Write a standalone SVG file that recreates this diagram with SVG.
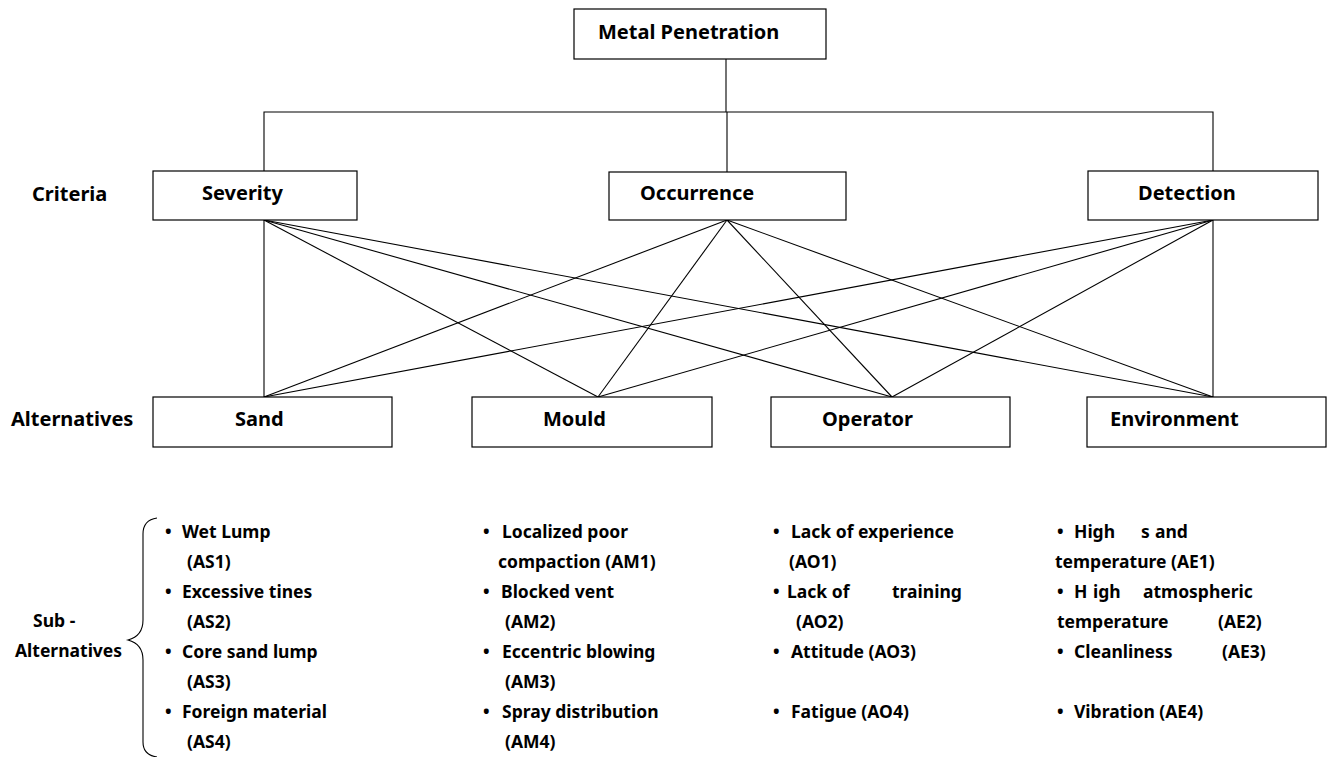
<svg xmlns="http://www.w3.org/2000/svg" width="1328" height="757" viewBox="0 0 1328 757">
<style>
.box{fill:#fff;stroke:#000;stroke-width:1.2}
.lbl{font-family:"Noto Sans","Open Sans",sans-serif;font-weight:bold;font-size:20px;fill:#000}
.sub{font-family:"Noto Sans","Open Sans",sans-serif;font-weight:bold;font-size:17.5px;fill:#000}
.ln{stroke:#000;stroke-width:1.1;fill:none}
</style>
<rect width="1328" height="757" fill="#fff"/>
<g id="connectors">
<polyline class="ln" points="726,59 726,112"/>
<polyline class="ln" points="264,171 264,112 1213,112 1213,171"/>
<line class="ln" x1="727" y1="112" x2="727" y2="172"/>
<line class="ln" x1="264" y1="220" x2="264" y2="397"/>
<line class="ln" x1="264" y1="220" x2="598" y2="397"/>
<line class="ln" x1="264" y1="220" x2="892" y2="397"/>
<line class="ln" x1="264" y1="220" x2="1213" y2="397"/>
<line class="ln" x1="727" y1="220" x2="264" y2="397"/>
<line class="ln" x1="727" y1="220" x2="598" y2="397"/>
<line class="ln" x1="727" y1="220" x2="892" y2="397"/>
<line class="ln" x1="727" y1="220" x2="1213" y2="397"/>
<line class="ln" x1="1213" y1="220" x2="264" y2="397"/>
<line class="ln" x1="1213" y1="220" x2="598" y2="397"/>
<line class="ln" x1="1213" y1="220" x2="892" y2="397"/>
<line class="ln" x1="1213" y1="220" x2="1213" y2="397"/>
</g>
<g id="metal-penetration"><rect class="box" x="574" y="9" width="252" height="50"/><text class="lbl" x="598" y="39">Metal Penetration</text></g>
<g id="criteria-label"><text class="lbl" x="32" y="201">Criteria</text></g>
<g id="severity"><rect class="box" x="153" y="171" width="204" height="49"/><text class="lbl" x="202" y="200">Severity</text></g>
<g id="occurrence"><rect class="box" x="609" y="172" width="237" height="48"/><text class="lbl" x="640" y="200">Occurrence</text></g>
<g id="detection"><rect class="box" x="1088" y="171" width="230" height="49"/><text class="lbl" x="1138" y="200">Detection</text></g>
<g id="alternatives-label"><text class="lbl" x="11" y="426">Alternatives</text></g>
<g id="sand"><rect class="box" x="153" y="397" width="239" height="50"/><text class="lbl" x="235" y="426">Sand</text></g>
<g id="mould"><rect class="box" x="472" y="397" width="240" height="50"/><text class="lbl" x="543" y="426">Mould</text></g>
<g id="operator"><rect class="box" x="771" y="397" width="239" height="50"/><text class="lbl" x="822" y="426">Operator</text></g>
<g id="environment"><rect class="box" x="1087" y="397" width="239" height="50"/><text class="lbl" x="1110" y="426">Environment</text></g>
<g id="sub-alternatives-label">
<text class="sub" x="33" y="627">Sub -</text>
<text class="sub" x="15" y="657">Alternatives</text>
<path class="ln" d="M157,518 Q143,520 143,534 L143,620 Q143,636 128,640 Q143,644 143,660 L143,742 Q143,755 157,757"/>
</g>
<g id="sand-subs">
<text class="sub" x="165" y="538">•</text><text class="sub" x="182" y="538">Wet Lump</text>
<text class="sub" x="187" y="568">(AS1)</text>
<text class="sub" x="165" y="598">•</text><text class="sub" x="182" y="598">Excessive tines</text>
<text class="sub" x="187" y="628">(AS2)</text>
<text class="sub" x="165" y="658">•</text><text class="sub" x="182" y="658">Core sand lump</text>
<text class="sub" x="187" y="688">(AS3)</text>
<text class="sub" x="165" y="718">•</text><text class="sub" x="182" y="718">Foreign material</text>
<text class="sub" x="187" y="748">(AS4)</text>
</g>
<g id="mould-subs">
<text class="sub" x="483" y="538">•</text><text class="sub" x="502" y="538">Localized poor</text>
<text class="sub" x="498" y="568">compaction (AM1)</text>
<text class="sub" x="483" y="598">•</text><text class="sub" x="501" y="598">Blocked vent</text>
<text class="sub" x="505" y="628">(AM2)</text>
<text class="sub" x="483" y="658">•</text><text class="sub" x="502" y="658">Eccentric blowing</text>
<text class="sub" x="505" y="688">(AM3)</text>
<text class="sub" x="483" y="718">•</text><text class="sub" x="502" y="718">Spray distribution</text>
<text class="sub" x="505" y="748">(AM4)</text>
</g>
<g id="operator-subs">
<text class="sub" x="773" y="538">•</text><text class="sub" x="791" y="538">Lack of experience</text>
<text class="sub" x="789" y="568">(AO1)</text>
<text class="sub" x="773" y="598">•</text><text class="sub" x="787" y="598">Lack of</text><text class="sub" x="892" y="598">training</text>
<text class="sub" x="796" y="628">(AO2)</text>
<text class="sub" x="773" y="658">•</text><text class="sub" x="791" y="658">Attitude (AO3)</text>
<text class="sub" x="773" y="718">•</text><text class="sub" x="791" y="718">Fatigue (AO4)</text>
</g>
<g id="environment-subs">
<text class="sub" x="1057" y="538">•</text><text class="sub" x="1074" y="538">High</text><text class="sub" x="1141" y="538">s</text><text class="sub" x="1155" y="538">and</text>
<text class="sub" x="1055" y="568">temperature (AE1)</text>
<text class="sub" x="1057" y="598">•</text><text class="sub" x="1074" y="598">H</text><text class="sub" x="1093" y="598">igh</text><text class="sub" x="1143" y="598">atmospheric</text>
<text class="sub" x="1057" y="628">temperature</text><text class="sub" x="1218" y="628">(AE2)</text>
<text class="sub" x="1057" y="658">•</text><text class="sub" x="1074" y="658">Cleanliness</text><text class="sub" x="1222" y="658">(AE3)</text>
<text class="sub" x="1057" y="718">•</text><text class="sub" x="1074" y="718">Vibration (AE4)</text>
</g>
</svg>
